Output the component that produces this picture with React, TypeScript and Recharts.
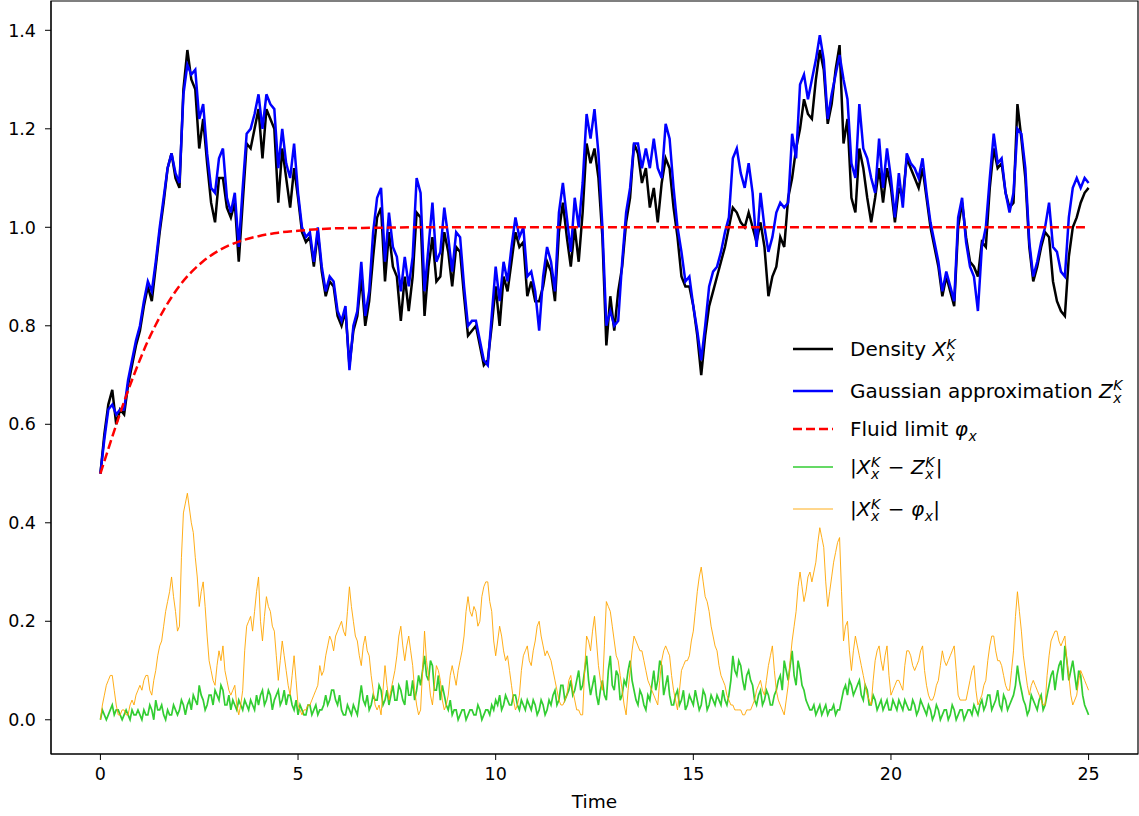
import React from 'react';
import { LineChart, Line, XAxis, YAxis, ReferenceArea, Legend } from 'recharts';

const timeStep = 0.1;

const density = [
  0.50, 0.58, 0.64, 0.67, 0.60, 0.63, 0.62, 0.68, 0.72, 0.76,
  0.79, 0.84, 0.88, 0.85, 0.92, 0.99, 1.05, 1.12, 1.15, 1.10,
  1.08, 1.28, 1.36, 1.30, 1.28, 1.16, 1.22, 1.13, 1.05, 1.01,
  1.10, 1.10, 1.04, 1.02, 1.05, 0.93, 1.05, 1.17, 1.16, 1.20,
  1.24, 1.14, 1.24, 1.22, 1.20, 1.05, 1.16, 1.10, 1.04, 1.12,
  1.06, 0.99, 0.97, 0.98, 0.92, 0.99, 0.91, 0.86, 0.89, 0.88,
  0.82, 0.80, 0.83, 0.72, 0.79, 0.82, 0.90, 0.80, 0.85, 0.94,
  1.02, 1.04, 0.89, 0.99, 0.92, 0.90, 0.81, 0.90, 0.83, 0.90,
  1.03, 1.02, 0.82, 0.92, 0.98, 0.89, 0.90, 0.99, 0.95, 0.88,
  0.96, 0.95, 0.86, 0.78, 0.79, 0.80, 0.76, 0.72, 0.73, 0.80,
  0.88, 0.80, 0.90, 0.87, 0.93, 0.99, 0.96, 0.97, 0.86, 0.89,
  0.85, 0.85, 0.88, 0.93, 0.91, 0.85, 0.99, 1.05, 0.98, 0.92,
  1.00, 0.93, 1.03, 1.17, 1.13, 1.16, 1.10, 0.98, 0.76, 0.86,
  0.79, 0.87, 0.92, 1.01, 1.06, 1.17, 1.15, 1.09, 1.12, 1.04,
  1.08, 1.01, 1.09, 1.14, 1.12, 1.04, 0.98, 0.90, 0.88, 0.88,
  0.84, 0.78, 0.70, 0.78, 0.84, 0.87, 0.90, 0.93, 0.96, 1.00,
  1.04, 1.03, 1.01, 1.00, 1.03, 1.00, 0.97, 1.01, 0.96, 0.86,
  0.90, 0.92, 0.98, 0.96, 1.06, 1.10, 1.16, 1.20, 1.26, 1.23,
  1.22, 1.30, 1.36, 1.32, 1.21, 1.25, 1.32, 1.37, 1.17, 1.22,
  1.06, 1.03, 1.16, 1.12, 1.06, 1.01, 1.06, 1.12, 1.05, 1.12,
  1.08, 1.01, 1.08, 1.06, 1.14, 1.12, 1.10, 1.08, 1.12, 1.06,
  1.00, 0.96, 0.92, 0.86, 0.90, 0.87, 0.84, 1.00, 1.05, 0.98,
  0.93, 0.92, 0.90, 0.97, 0.96, 1.08, 1.16, 1.12, 1.13, 1.07,
  1.04, 1.05, 1.25, 1.18, 1.10, 0.96, 0.89, 0.92, 0.96, 0.99,
  0.98, 0.89, 0.85, 0.83, 0.82, 0.94, 1.00, 1.02, 1.05, 1.07,
  1.08,
];

const gaussian = [
  0.50, 0.57, 0.63, 0.64, 0.62, 0.63, 0.63, 0.69, 0.73, 0.77,
  0.80, 0.85, 0.89, 0.87, 0.93, 1.00, 1.06, 1.12, 1.15, 1.11,
  1.09, 1.27, 1.33, 1.31, 1.32, 1.22, 1.25, 1.15, 1.08, 1.07,
  1.14, 1.16, 1.06, 1.03, 1.07, 0.96, 1.08, 1.19, 1.20, 1.23,
  1.27, 1.20, 1.27, 1.25, 1.24, 1.12, 1.20, 1.13, 1.10, 1.17,
  1.07, 1.00, 0.98, 0.99, 0.93, 1.00, 0.92, 0.87, 0.90, 0.89,
  0.83, 0.81, 0.84, 0.71, 0.80, 0.83, 0.93, 0.82, 0.87, 0.99,
  1.06, 1.08, 0.93, 1.03, 0.96, 0.94, 0.87, 0.94, 0.88, 0.94,
  1.10, 1.07, 0.87, 0.96, 1.05, 0.93, 0.95, 1.04, 0.98, 0.91,
  0.99, 0.98, 0.88, 0.80, 0.81, 0.81, 0.77, 0.73, 0.72, 0.82,
  0.92, 0.85, 0.93, 0.89, 0.96, 1.02, 0.98, 1.00, 0.90, 0.91,
  0.87, 0.79, 0.90, 0.96, 0.93, 0.87, 1.03, 1.09, 1.02, 0.95,
  1.06, 1.00, 1.09, 1.23, 1.18, 1.24, 1.15, 1.00, 0.80, 0.83,
  0.80, 0.81, 0.93, 1.03, 1.08, 1.17, 1.17, 1.12, 1.16, 1.12,
  1.18, 1.12, 1.10, 1.21, 1.18, 1.08, 1.00, 0.95, 0.89, 0.90,
  0.84, 0.79, 0.73, 0.80, 0.88, 0.91, 0.92, 0.95, 0.99, 1.02,
  1.14, 1.16, 1.11, 1.08, 1.13, 1.07, 0.96, 1.07, 1.00, 0.95,
  0.98, 1.03, 1.05, 1.04, 1.05, 1.19, 1.14, 1.29, 1.31, 1.26,
  1.30, 1.34, 1.39, 1.34, 1.22, 1.27, 1.31, 1.35, 1.30, 1.26,
  1.13, 1.10, 1.25, 1.16, 1.14, 1.10, 1.07, 1.18, 1.08, 1.16,
  1.10, 1.02, 1.11, 1.04, 1.15, 1.13, 1.12, 1.10, 1.14, 1.07,
  1.01, 0.97, 0.93, 0.87, 0.91, 0.88, 0.85, 1.02, 1.06, 0.97,
  0.92, 0.90, 0.83, 0.96, 1.00, 1.10, 1.19, 1.13, 1.14, 1.07,
  1.03, 1.07, 1.20, 1.19, 1.12, 0.97, 0.90, 0.93, 0.97, 1.00,
  1.05, 0.96, 0.95, 0.91, 0.90, 1.02, 1.08, 1.10, 1.08, 1.10,
  1.09,
];

// |X - Z| at t = 0.0, 0.1, ..., 25.0
const diffGaussian = [
  0.00, 0.01, 0.01, 0.03, 0.02, 0.01, 0.01, 0.01, 0.02, 0.01,
  0.01, 0.02, 0.01, 0.02, 0.04, 0.02, 0.01, 0.02, 0.01, 0.02,
  0.02, 0.03, 0.03, 0.02, 0.04, 0.07, 0.04, 0.03, 0.05, 0.06,
  0.04, 0.06, 0.03, 0.02, 0.03, 0.04, 0.02, 0.03, 0.04, 0.02,
  0.03, 0.06, 0.04, 0.05, 0.04, 0.06, 0.04, 0.03, 0.05, 0.02,
  0.01, 0.02, 0.01, 0.03, 0.02, 0.01, 0.02, 0.05, 0.04, 0.06,
  0.03, 0.02, 0.01, 0.02, 0.03, 0.01, 0.07, 0.03, 0.02, 0.05,
  0.04, 0.06, 0.04, 0.03, 0.07, 0.04, 0.06, 0.03, 0.05, 0.08,
  0.06, 0.07, 0.13, 0.08, 0.11, 0.06, 0.04, 0.05, 0.02, 0.01,
  0.02, 0.01, 0.02, 0.01, 0.02, 0.01, 0.02, 0.01, 0.02, 0.03,
  0.04, 0.05, 0.03, 0.04, 0.03, 0.05, 0.02, 0.03, 0.04, 0.02,
  0.03, 0.02, 0.03, 0.02, 0.03, 0.06, 0.04, 0.07, 0.05, 0.08,
  0.06, 0.10, 0.07, 0.13, 0.05, 0.09, 0.03, 0.08, 0.04, 0.13,
  0.06, 0.09, 0.05, 0.07, 0.12, 0.06, 0.03, 0.05, 0.02, 0.04,
  0.10, 0.08, 0.11, 0.07, 0.05, 0.03, 0.06, 0.04, 0.02, 0.05,
  0.03, 0.04, 0.03, 0.05, 0.03, 0.04, 0.05, 0.03, 0.04, 0.05,
  0.13, 0.09, 0.11, 0.06, 0.10, 0.07, 0.03, 0.06, 0.04, 0.05,
  0.03, 0.06, 0.09, 0.12, 0.08, 0.14, 0.07, 0.10, 0.06, 0.03,
  0.02, 0.01, 0.03, 0.02, 0.01, 0.02, 0.01, 0.02, 0.06, 0.05,
  0.07, 0.06, 0.08, 0.04, 0.06, 0.03, 0.04, 0.03, 0.02, 0.04,
  0.02, 0.03, 0.04, 0.02, 0.03, 0.02, 0.03, 0.02, 0.03, 0.01,
  0.02, 0.01, 0.02, 0.01, 0.02, 0.01, 0.02, 0.01, 0.02, 0.01,
  0.02, 0.03, 0.01, 0.04, 0.03, 0.05, 0.03, 0.06, 0.02, 0.04,
  0.03, 0.05, 0.11, 0.06, 0.03, 0.02, 0.04, 0.02, 0.05, 0.03,
  0.07, 0.10, 0.09, 0.12, 0.15, 0.08, 0.12, 0.06, 0.09, 0.03,
  0.01,
];

// |X - Z| at t = 0.05, 0.15, ..., 24.95
const diffGaussianMid = [
  0.02, 0.00, 0.02, 0.01, 0.02, 0.00, 0.02, 0.00, 0.01, 0.02,
  0.00, 0.01, 0.03, 0.00, 0.02, 0.03, 0.00, 0.01, 0.03, 0.01,
  0.04, 0.01, 0.04, 0.05, 0.03, 0.05, 0.02, 0.05, 0.03, 0.05,
  0.07, 0.03, 0.05, 0.04, 0.02, 0.03, 0.04, 0.02, 0.03, 0.05,
  0.05, 0.03, 0.06, 0.02, 0.05, 0.03, 0.06, 0.05, 0.03, 0.04,
  0.03, 0.01, 0.03, 0.01, 0.03, 0.02, 0.03, 0.03, 0.06, 0.04,
  0.05, 0.01, 0.03, 0.01, 0.02, 0.04, 0.04, 0.05, 0.03, 0.04,
  0.07, 0.03, 0.06, 0.05, 0.04, 0.07, 0.04, 0.08, 0.05, 0.04,
  0.09, 0.10, 0.09, 0.12, 0.06, 0.09, 0.07, 0.03, 0.04, 0.02,
  0.00, 0.02, 0.00, 0.02, 0.01, 0.03, 0.00, 0.02, 0.01, 0.02,
  0.03, 0.02, 0.05, 0.03, 0.05, 0.03, 0.04, 0.02, 0.03, 0.04,
  0.01, 0.04, 0.01, 0.04, 0.05, 0.03, 0.07, 0.04, 0.06, 0.05,
  0.08, 0.06, 0.10, 0.08, 0.07, 0.05, 0.06, 0.05, 0.10, 0.07,
  0.10, 0.04, 0.08, 0.10, 0.08, 0.04, 0.06, 0.03, 0.05, 0.07,
  0.06, 0.12, 0.05, 0.09, 0.03, 0.05, 0.03, 0.06, 0.03, 0.04,
  0.06, 0.02, 0.06, 0.02, 0.05, 0.03, 0.04, 0.06, 0.03, 0.08,
  0.10, 0.12, 0.08, 0.09, 0.08, 0.04, 0.05, 0.03, 0.06, 0.03,
  0.05, 0.08, 0.06, 0.10, 0.11, 0.09, 0.12, 0.07, 0.04, 0.02,
  0.03, 0.02, 0.01, 0.03, 0.02, 0.03, 0.02, 0.04, 0.07, 0.08,
  0.05, 0.07, 0.05, 0.07, 0.03, 0.05, 0.02, 0.04, 0.03, 0.02,
  0.04, 0.02, 0.03, 0.04, 0.02, 0.04, 0.01, 0.04, 0.02, 0.03,
  0.00, 0.03, 0.00, 0.02, 0.00, 0.03, 0.00, 0.02, 0.00, 0.02,
  0.01, 0.02, 0.03, 0.02, 0.05, 0.02, 0.04, 0.03, 0.05, 0.02,
  0.04, 0.07, 0.08, 0.04, 0.01, 0.05, 0.03, 0.04, 0.02, 0.05,
  0.09, 0.06, 0.11, 0.08, 0.12, 0.10, 0.09, 0.10, 0.05, 0.02,
];

// |X - phi| at t = 0.0, 0.1, ..., 25.0
const diffFluid = [
  0.00, 0.05, 0.08, 0.09, 0.03, 0.01, 0.02, 0.01, 0.04, 0.05,
  0.07, 0.08, 0.09, 0.05, 0.10, 0.15, 0.19, 0.24, 0.29, 0.22,
  0.19, 0.42, 0.46, 0.40, 0.33, 0.23, 0.28, 0.17, 0.10, 0.07,
  0.14, 0.15, 0.08, 0.05, 0.07, 0.01, 0.06, 0.19, 0.21, 0.22,
  0.29, 0.16, 0.25, 0.22, 0.18, 0.08, 0.16, 0.10, 0.05, 0.13,
  0.03, 0.01, 0.02, 0.03, 0.05, 0.07, 0.09, 0.13, 0.17, 0.14,
  0.18, 0.20, 0.17, 0.27, 0.20, 0.16, 0.11, 0.17, 0.13, 0.06,
  0.02, 0.01, 0.11, 0.04, 0.08, 0.13, 0.19, 0.12, 0.17, 0.11,
  0.03, 0.02, 0.18, 0.09, 0.03, 0.11, 0.08, 0.02, 0.05, 0.11,
  0.07, 0.12, 0.17, 0.25, 0.21, 0.22, 0.20, 0.27, 0.28, 0.22,
  0.13, 0.19, 0.14, 0.13, 0.07, 0.02, 0.05, 0.13, 0.15, 0.11,
  0.16, 0.20, 0.15, 0.14, 0.12, 0.08, 0.04, 0.03, 0.05, 0.09,
  0.04, 0.02, 0.01, 0.17, 0.14, 0.21, 0.11, 0.06, 0.24, 0.22,
  0.16, 0.12, 0.06, 0.01, 0.10, 0.17, 0.15, 0.14, 0.10, 0.07,
  0.05, 0.03, 0.12, 0.15, 0.13, 0.06, 0.02, 0.10, 0.12, 0.13,
  0.18, 0.26, 0.31, 0.25, 0.22, 0.17, 0.14, 0.09, 0.07, 0.04,
  0.03, 0.02, 0.02, 0.01, 0.02, 0.03, 0.06, 0.08, 0.05, 0.11,
  0.15, 0.06, 0.03, 0.01, 0.07, 0.16, 0.22, 0.30, 0.24, 0.29,
  0.28, 0.32, 0.39, 0.35, 0.23, 0.29, 0.34, 0.37, 0.16, 0.20,
  0.10, 0.17, 0.13, 0.09, 0.05, 0.03, 0.12, 0.15, 0.10, 0.15,
  0.05, 0.07, 0.08, 0.06, 0.14, 0.13, 0.10, 0.12, 0.15, 0.07,
  0.04, 0.05, 0.08, 0.14, 0.11, 0.13, 0.15, 0.05, 0.04, 0.04,
  0.08, 0.11, 0.03, 0.05, 0.08, 0.15, 0.17, 0.12, 0.11, 0.07,
  0.06, 0.14, 0.26, 0.18, 0.10, 0.05, 0.08, 0.06, 0.04, 0.03,
  0.13, 0.17, 0.18, 0.15, 0.17, 0.09, 0.03, 0.05, 0.10, 0.08,
  0.06,
];

// |X - phi| at t = 0.05, 0.15, ..., 24.95
const diffFluidMid = [
  0.03, 0.07, 0.09, 0.06, 0.01, 0.02, 0.01, 0.03, 0.03, 0.06,
  0.06, 0.09, 0.06, 0.08, 0.13, 0.16, 0.22, 0.26, 0.25, 0.18,
  0.33, 0.44, 0.43, 0.38, 0.29, 0.26, 0.23, 0.12, 0.08, 0.11,
  0.12, 0.10, 0.06, 0.06, 0.03, 0.03, 0.14, 0.20, 0.18, 0.26,
  0.20, 0.21, 0.23, 0.19, 0.13, 0.12, 0.13, 0.07, 0.09, 0.08,
  0.02, 0.02, 0.03, 0.04, 0.06, 0.11, 0.10, 0.15, 0.16, 0.17,
  0.19, 0.18, 0.22, 0.23, 0.17, 0.13, 0.15, 0.14, 0.09, 0.03,
  0.03, 0.06, 0.07, 0.06, 0.10, 0.17, 0.15, 0.15, 0.14, 0.06,
  0.01, 0.10, 0.12, 0.05, 0.07, 0.10, 0.04, 0.03, 0.09, 0.09,
  0.10, 0.14, 0.22, 0.22, 0.23, 0.19, 0.25, 0.28, 0.24, 0.16,
  0.16, 0.17, 0.12, 0.10, 0.04, 0.03, 0.10, 0.14, 0.12, 0.14,
  0.19, 0.17, 0.13, 0.13, 0.10, 0.06, 0.03, 0.04, 0.08, 0.06,
  0.02, 0.01, 0.10, 0.16, 0.18, 0.16, 0.08, 0.15, 0.23, 0.19,
  0.13, 0.09, 0.03, 0.06, 0.14, 0.16, 0.14, 0.12, 0.08, 0.06,
  0.04, 0.08, 0.14, 0.14, 0.09, 0.04, 0.06, 0.11, 0.12, 0.16,
  0.22, 0.29, 0.28, 0.24, 0.19, 0.15, 0.11, 0.08, 0.05, 0.03,
  0.02, 0.02, 0.01, 0.02, 0.02, 0.04, 0.07, 0.06, 0.08, 0.13,
  0.10, 0.04, 0.02, 0.04, 0.12, 0.19, 0.27, 0.27, 0.26, 0.30,
  0.30, 0.36, 0.37, 0.28, 0.26, 0.32, 0.36, 0.26, 0.19, 0.14,
  0.14, 0.15, 0.11, 0.07, 0.04, 0.08, 0.14, 0.12, 0.13, 0.09,
  0.06, 0.08, 0.07, 0.11, 0.14, 0.11, 0.11, 0.14, 0.10, 0.05,
  0.04, 0.07, 0.11, 0.12, 0.12, 0.14, 0.10, 0.04, 0.04, 0.06,
  0.10, 0.06, 0.04, 0.07, 0.12, 0.17, 0.14, 0.12, 0.09, 0.06,
  0.10, 0.21, 0.22, 0.13, 0.07, 0.07, 0.07, 0.05, 0.03, 0.09,
  0.16, 0.18, 0.16, 0.16, 0.12, 0.05, 0.04, 0.08, 0.09, 0.07,
];

const fluidTime = [0, 0.2, 0.4, 0.6, 0.8, 1.0, 1.2, 1.4, 1.6, 1.8, 2.0, 2.3, 2.6, 3.0, 3.5, 4.0, 4.5, 5.0, 6.0, 7.0, 8.0, 10.0, 25.0];
const fluidLimit = [0.500, 0.550, 0.599, 0.646, 0.690, 0.731, 0.769, 0.802, 0.832, 0.858, 0.881, 0.909, 0.931, 0.953, 0.971, 0.982, 0.989, 0.993, 0.998, 0.999, 1.000, 1.000, 1.000];

const xTicks = [0, 5, 10, 15, 20, 25];
const yTicks = [0, 0.2, 0.4, 0.6, 0.8, 1.0, 1.2, 1.4];

const fluidByIndex = new Map<number, number>(
  fluidTime.map((t, i) => [Math.round(t / timeStep), fluidLimit[i]])
);

type Row = {
  t: number;
  density: number | null;
  gaussian: number | null;
  diffGaussian: number | null;
  diffFluid: number | null;
  fluid: number | null;
};

const rows: Row[] = [];
density.forEach((d, i) => {
  rows.push({
    t: i * timeStep,
    density: d,
    gaussian: gaussian[i],
    diffGaussian: diffGaussian[i],
    diffFluid: diffFluid[i],
    fluid: fluidByIndex.has(i) ? (fluidByIndex.get(i) as number) : null,
  });
  if (i < diffGaussianMid.length) {
    rows.push({
      t: (i + 0.5) * timeStep,
      density: null,
      gaussian: null,
      diffGaussian: diffGaussianMid[i],
      diffFluid: diffFluidMid[i],
      fluid: null,
    });
  }
});

const FONT = '"DejaVu Sans", sans-serif';
const X_DOMAIN: [number, number] = [-1.25, 26.25];
const Y_DOMAIN: [number, number] = [-0.0695, 1.4595];

// Base symbol with a stacked superscript/subscript written as one two-line text run.
const Script = ({ base, sup, sub }: { base: string; sup?: string; sub?: string }) => (
  <span style={{ whiteSpace: 'nowrap' }}>
    <span style={{ fontStyle: 'italic' }}>{base}</span>
    <span style={{ display: 'inline-block', position: 'relative', width: sup ? 11 : 9, height: '0.6em' }}>
      {sup ? (
        <span
          style={{
            position: 'absolute', left: 0.5, bottom: -6.8, fontSize: '0.7em', lineHeight: '12.4px',
            whiteSpace: 'pre', fontStyle: 'italic',
          }}
        >
          {`${sup}\n${sub ?? ''}`}
        </span>
      ) : (
        <span style={{ position: 'absolute', left: 0.5, bottom: -6.2, fontSize: '0.7em', lineHeight: 0.8, fontStyle: 'italic' }}>{sub}</span>
      )}
    </span>
  </span>
);

const T = ({ children }: { children: React.ReactNode }) => <span style={{ whiteSpace: 'pre' }}>{children}</span>;

const legendRows = [
  { key: 'density', cy: 349, color: '#000000', width: 2.5, dash: undefined as string | undefined,
    label: <><T>Density </T><Script base="X" sup="K" sub="x" /></> },
  { key: 'gaussian', cy: 390.5, color: '#0000ff', width: 2.5, dash: undefined,
    label: <><T>Gaussian approximation </T><Script base="Z" sup="K" sub="x" /></> },
  { key: 'fluid', cy: 429, color: '#ff0000', width: 2.5, dash: '9 4',
    label: <><T>Fluid limit </T><Script base="φ" sub="x" /></> },
  { key: 'diffGaussian', cy: 467, color: '#32cd32', width: 1.7, dash: undefined,
    label: <><T>|</T><Script base="X" sup="K" sub="x" /><T> − </T><Script base="Z" sup="K" sub="x" /><T>|</T></> },
  { key: 'diffFluid', cy: 509, color: '#ffa500', width: 0.9, dash: undefined,
    label: <><T>|</T><Script base="X" sup="K" sub="x" /><T> − </T><Script base="φ" sub="x" /><T>|</T></> },
];

const renderLegend = () => (
  <div style={{ position: 'relative', width: 1139, height: 816, fontFamily: FONT, fontSize: 20, color: '#000' }}>
    {legendRows.map((r) => (
      <div key={r.key} style={{ position: 'absolute', left: 793, top: r.cy - 20, height: 40, display: 'flex', alignItems: 'center' }}>
        <svg width={40} height={10} style={{ display: 'block' }}>
          <line x1={0} y1={5} x2={40} y2={5} stroke={r.color} strokeWidth={r.width} strokeDasharray={r.dash} />
        </svg>
        <span style={{ marginLeft: 17, lineHeight: 'normal', whiteSpace: 'nowrap' }}>{r.label}</span>
      </div>
    ))}
  </div>
);

export default function App() {
  return (
    <div style={{ position: 'absolute', left: 0, top: 0, width: 1139, height: 816, background: '#fff', fontFamily: FONT }}>
      <LineChart width={1139} height={816} data={rows} margin={{ top: 1, right: 1, bottom: 0, left: 0 }}>
        <XAxis
          dataKey="t"
          type="number"
          domain={X_DOMAIN}
          ticks={xTicks}
          allowDataOverflow
          height={62}
          tickSize={6}
          tickMargin={8}
          stroke="#000"
          tick={{ fill: '#000', fontSize: 17.5, fontFamily: FONT }}
          label={{ value: 'Time', position: 'insideBottom', offset: 8, fill: '#000', fontSize: 18.5, fontFamily: FONT }}
        />
        <YAxis
          type="number"
          domain={Y_DOMAIN}
          ticks={yTicks}
          allowDataOverflow
          width={51}
          tickSize={6}
          tickMargin={9}
          stroke="#000"
          tickFormatter={(v: number) => v.toFixed(1)}
          tick={{ fill: '#000', fontSize: 17.5, fontFamily: FONT }}
        />
        <Line dataKey="density" type="linear" stroke="#000000" strokeWidth={2.5} dot={false} connectNulls isAnimationActive={false} />
        <Line dataKey="gaussian" type="linear" stroke="#0000ff" strokeWidth={2.5} dot={false} connectNulls isAnimationActive={false} />
        <Line dataKey="fluid" type="monotone" stroke="#ff0000" strokeWidth={2.5} strokeDasharray="9 4" dot={false} connectNulls isAnimationActive={false} />
        <Line dataKey="diffGaussian" type="linear" stroke="#32cd32" strokeWidth={1.7} dot={false} isAnimationActive={false} />
        <Line dataKey="diffFluid" type="linear" stroke="#ffa500" strokeWidth={0.9} dot={false} isAnimationActive={false} />
        <ReferenceArea x1={X_DOMAIN[0]} x2={X_DOMAIN[1]} y1={Y_DOMAIN[0]} y2={Y_DOMAIN[1]} fill="none" stroke="#000" strokeWidth={1.2} ifOverflow="visible" />
        <Legend
          content={renderLegend}
          layout="vertical"
          align="center"
          verticalAlign="middle"
          wrapperStyle={{ left: 0, top: 0, width: 1139, height: 816, pointerEvents: 'none' }}
        />
      </LineChart>
    </div>
  );
}
